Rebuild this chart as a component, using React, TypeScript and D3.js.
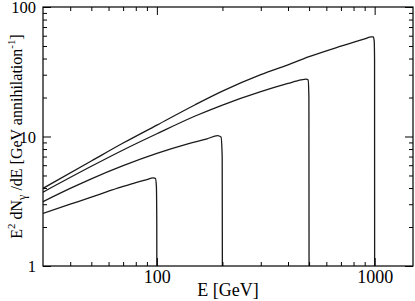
import * as d3 from 'd3';
import { useEffect, useRef } from 'react';

// energies (GeV) and E^2 dN/dE, one array per mass
const energy100 = [30, 40, 50, 60, 70, 80, 90, 96, 98.5, 99.5, 99.9, 100];
const flux100 = [2.55, 3.0, 3.4, 3.78, 4.12, 4.4, 4.65, 4.8, 4.75, 4.1, 2.2, 0.5];

const energy200 = [30, 40, 50, 70, 100, 140, 170, 190, 197, 199.5, 200];
const flux200 = [3.14, 3.97, 4.71, 5.95, 7.4, 8.8, 9.6, 10.15, 9.9, 7, 0.5];

const energy500 = [30, 50, 70, 100, 150, 200, 300, 400, 460, 485, 495, 499, 500];
const flux500 = [3.72, 5.89, 7.87, 10.5, 14.4, 17.5, 22.2, 25.7, 27.4, 27.75, 27.35, 20, 0.5];

const energy1000 = [30, 50, 70, 100, 150, 200, 300, 400, 500, 700, 900, 965, 985, 995, 999, 1000];
const flux1000 = [3.98, 6.47, 8.9, 12.25, 17.6, 22.4, 30.0, 35.8, 41.3, 49.8, 56.8, 58.8, 58.7, 55, 40, 0.5];

const xMajor = [100, 1000];
const xMinor = [40, 50, 60, 70, 80, 90, 200, 300, 400, 500, 600, 700, 800, 900];
const yMajor = [1, 10, 100];
const yMinor = [2, 3, 4, 5, 6, 7, 8, 9, 20, 30, 40, 50, 60, 70, 80, 90];

const FONT = "'Liberation Serif', 'Times New Roman', serif";

function App() {
    const svgRef = useRef<SVGSVGElement>(null);

    useEffect(() => {
        const width = 415;
        const height = 301;
        const margin = { top: 7, right: 2, bottom: 35, left: 43 };
        const svg = d3.select(svgRef.current);
        svg.selectAll('*').remove();

        const x = d3.scaleLog().domain([30, 1500]).range([margin.left, width - margin.right]);
        const y = d3.scaleLog().domain([1, 100]).range([height - margin.bottom, margin.top]);
        const [x0, x1] = x.range();
        const [y0, y1] = y.range();

        // clip so the vertical drops stop at the frame
        svg.append('clipPath').attr('id', 'plotclip')
            .append('rect')
            .attr('x', x0).attr('y', y1)
            .attr('width', x1 - x0).attr('height', y0 - y1);

        const series = [
            { e: energy100, f: flux100 },
            { e: energy200, f: flux200 },
            { e: energy500, f: flux500 },
            { e: energy1000, f: flux1000 },
        ];

        const line = d3.line<[number, number]>()
            .x(d => x(d[0]))
            .y(d => y(d[1]))
            .curve(d3.curveMonotoneX);

        svg.append('g').attr('clip-path', 'url(#plotclip)')
            .selectAll('path')
            .data(series)
            .join('path')
            .attr('d', s => line(s.e.map((e, i) => [e, s.f[i]] as [number, number])))
            .attr('fill', 'none')
            .attr('stroke', '#1a1a1a')
            .attr('stroke-width', 1.3);

        // ticks on all four sides, pointing in
        const styleAxis = (g: any) => {
            g.select('.domain').remove();
            g.selectAll('line').attr('stroke', '#000').attr('stroke-width', 1);
            g.selectAll('text').attr('fill', '#000').attr('font-family', FONT);
        };

        svg.append('g').attr('transform', `translate(0,${y0})`)
            .call(d3.axisBottom(x).tickValues(xMajor).tickSize(-8).tickPadding(4).tickFormat(d3.format('d')))
            .call(styleAxis)
            .selectAll('text').attr('font-size', 18);
        svg.append('g').attr('transform', `translate(0,${y0})`)
            .call(d3.axisBottom(x).tickValues(xMinor).tickSize(-4).tickFormat(() => ''))
            .call(styleAxis);
        svg.append('g').attr('transform', `translate(0,${y1})`)
            .call(d3.axisTop(x).tickValues(xMajor).tickSize(-8).tickFormat(() => ''))
            .call(styleAxis);
        svg.append('g').attr('transform', `translate(0,${y1})`)
            .call(d3.axisTop(x).tickValues(xMinor).tickSize(-4).tickFormat(() => ''))
            .call(styleAxis);

        svg.append('g').attr('transform', `translate(${x0},0)`)
            .call(d3.axisLeft(y).tickValues(yMajor).tickSize(-8).tickPadding(7).tickFormat(d3.format('d')))
            .call(styleAxis)
            .selectAll('text').attr('font-size', 16.5).attr('dy', '0.36em');
        svg.append('g').attr('transform', `translate(${x0},0)`)
            .call(d3.axisLeft(y).tickValues(yMinor).tickSize(-4).tickFormat(() => ''))
            .call(styleAxis);
        svg.append('g').attr('transform', `translate(${x1},0)`)
            .call(d3.axisRight(y).tickValues(yMajor).tickSize(-8).tickFormat(() => ''))
            .call(styleAxis);
        svg.append('g').attr('transform', `translate(${x1},0)`)
            .call(d3.axisRight(y).tickValues(yMinor).tickSize(-4).tickFormat(() => ''))
            .call(styleAxis);

        // frame
        svg.append('rect')
            .attr('x', x0).attr('y', y1)
            .attr('width', x1 - x0).attr('height', y0 - y1)
            .attr('fill', 'none')
            .attr('stroke', '#000')
            .attr('stroke-width', 1.2);

        // axis titles
        svg.append('text')
            .attr('x', (x0 + x1) / 2)
            .attr('y', 296)
            .attr('text-anchor', 'middle')
            .attr('font-family', FONT)
            .attr('font-size', 18)
            .text('E [GeV]');

        const fs = 16;
        const sup = fs * 0.68;
        const up = fs * 0.42;
        const yt = svg.append('text')
            .attr('transform', `translate(22,${(y0 + y1) / 2}) rotate(-90)`)
            .attr('text-anchor', 'middle')
            .attr('font-family', FONT)
            .attr('font-size', fs);
        yt.append('tspan').text('E');
        yt.append('tspan').attr('font-size', sup).attr('dy', -up).text('2');
        yt.append('tspan').attr('dy', up).text(' dN');
        yt.append('tspan').attr('font-size', fs * 0.75).attr('dy', fs * 0.25).text('γ');
        yt.append('tspan').attr('dy', -fs * 0.25).text(' /dE [GeV annihilation');
        yt.append('tspan').attr('font-size', sup).attr('dy', -up).text('-1');
        yt.append('tspan').attr('dy', up).text(']');
    }, []);

    return (
        <svg ref={svgRef} width={415} height={301}
            style={{ position: 'absolute', left: 0, top: 0, background: '#fff' }} />
    );
}

export default App;
